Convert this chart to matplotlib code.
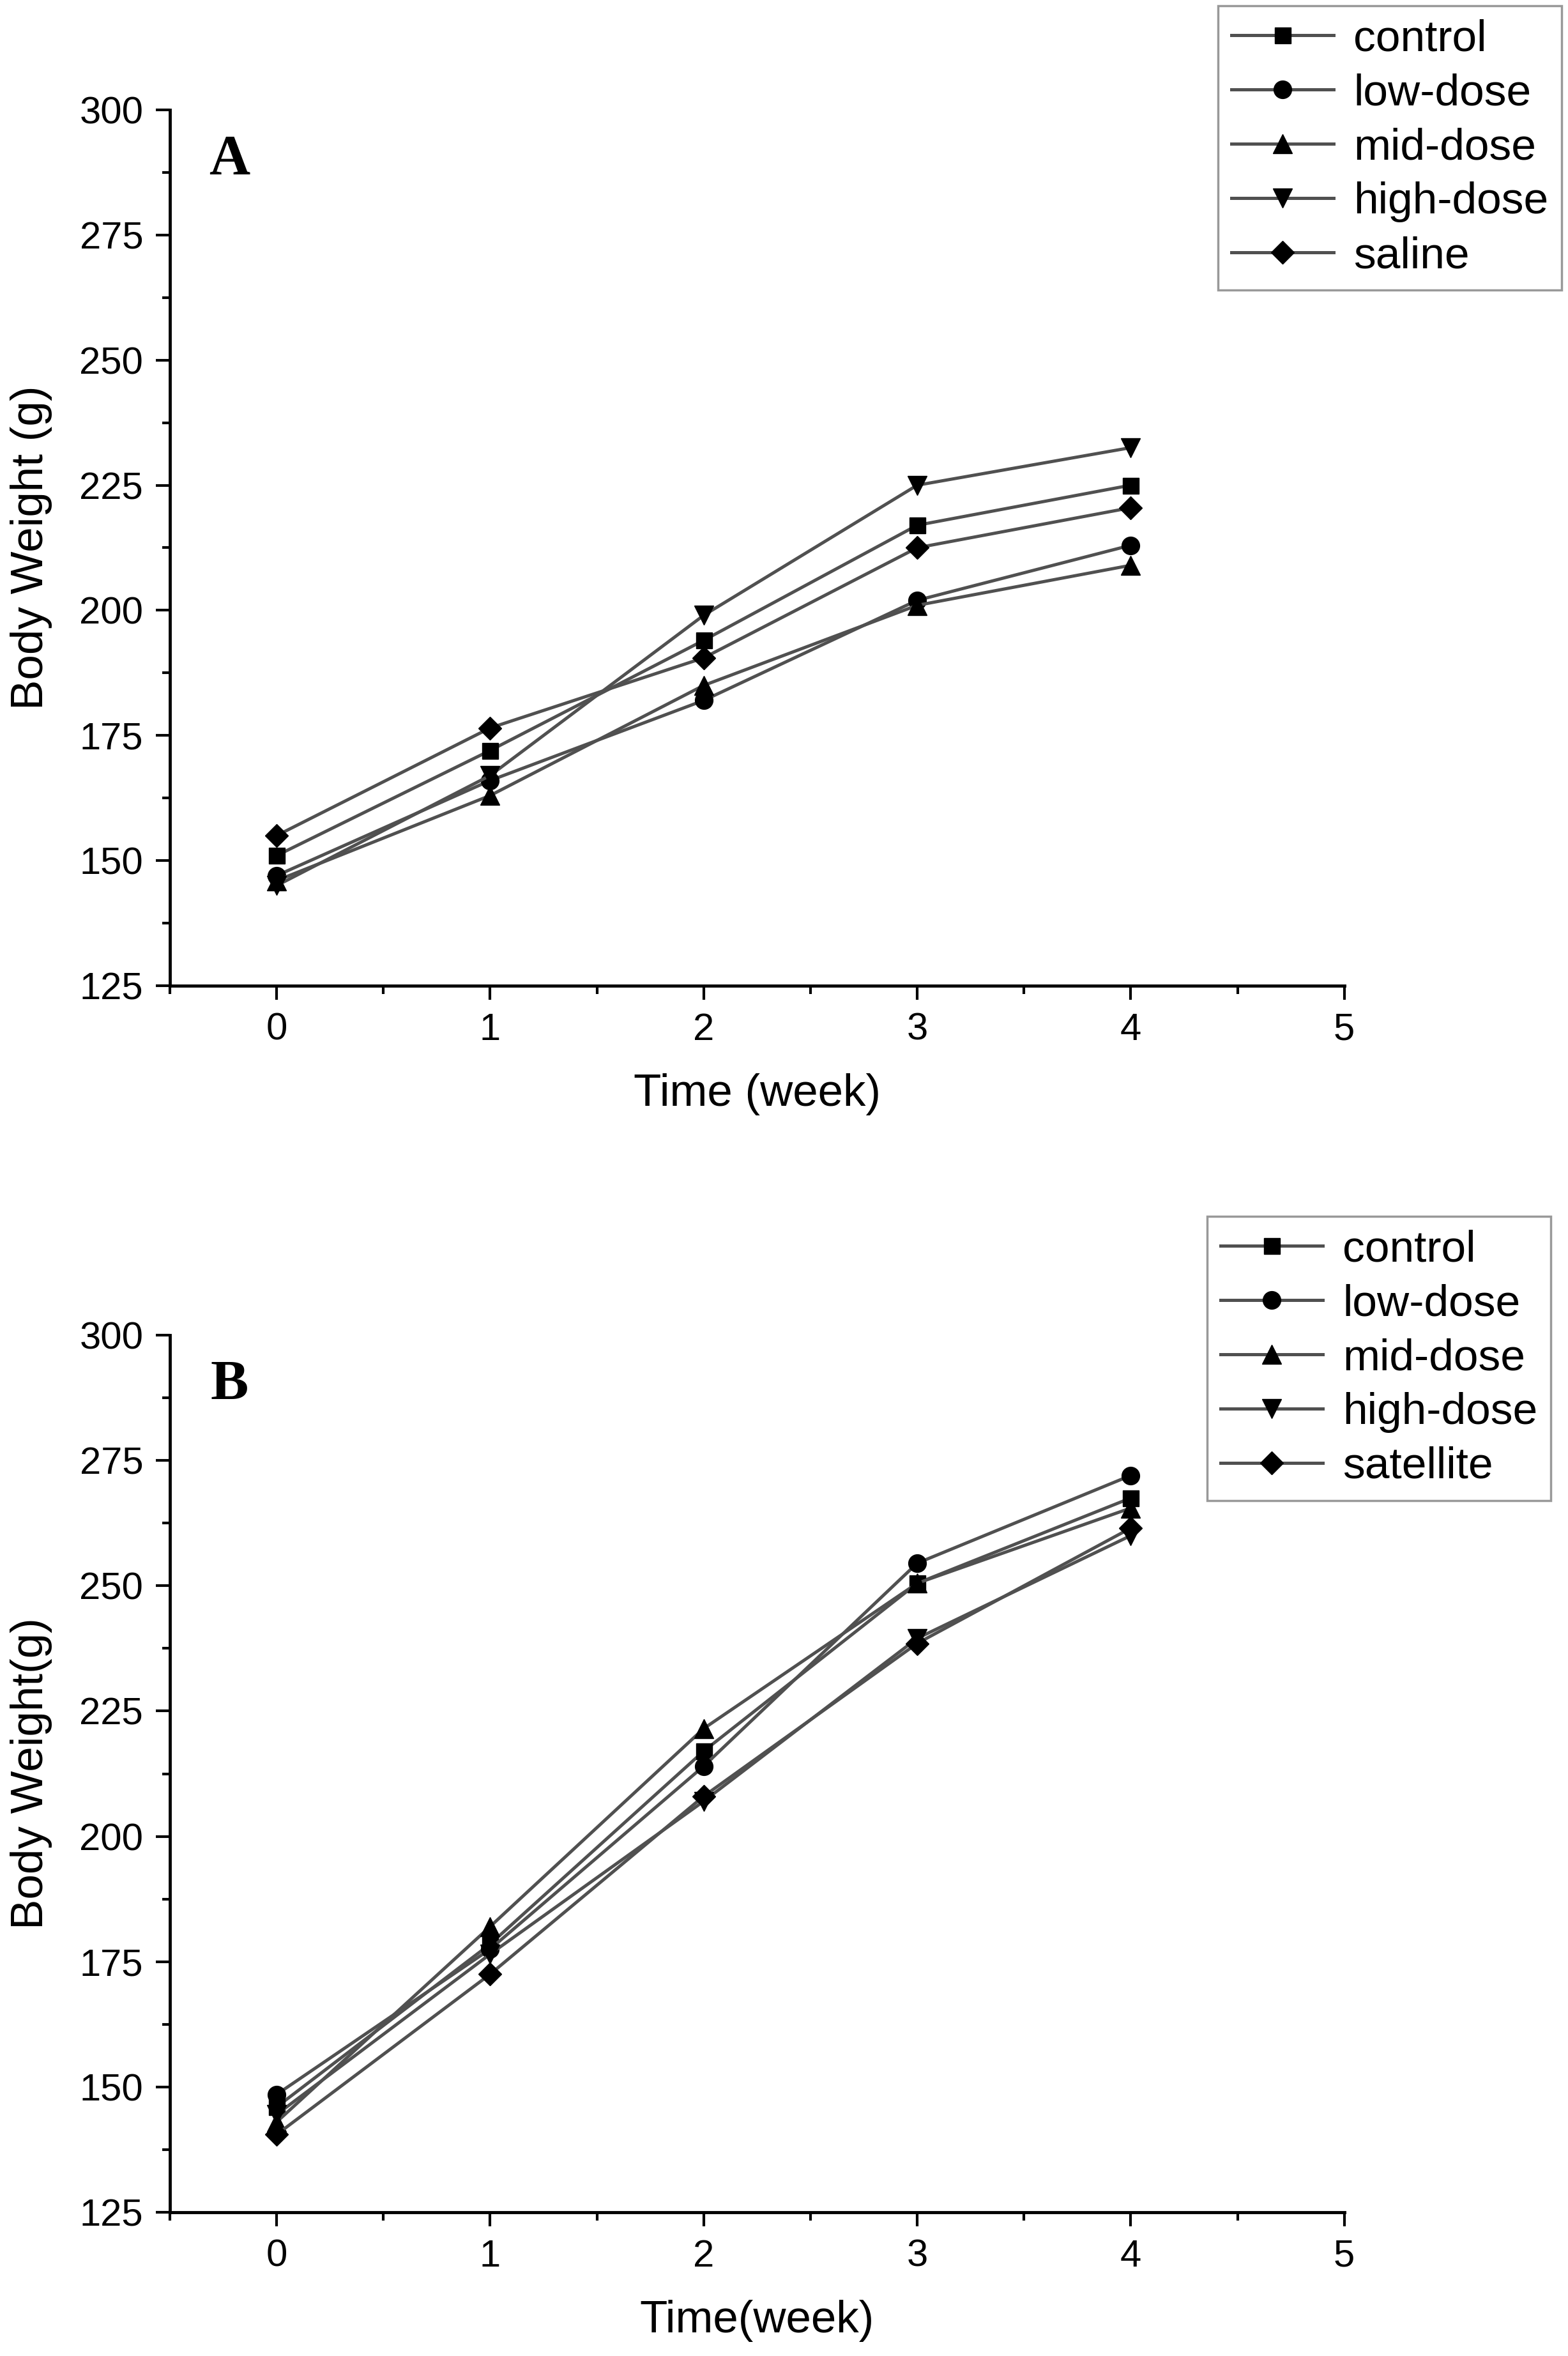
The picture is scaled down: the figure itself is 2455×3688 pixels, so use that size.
import matplotlib
matplotlib.use("Agg")
import matplotlib.pyplot as plt
from matplotlib.ticker import MultipleLocator

plt.rcParams['font.family'] = ['Liberation Sans', 'DejaVu Sans']

# data
weeks = [0, 1, 2, 3, 4]

# panel A
a_labels = ['control', 'low-dose', 'mid-dose', 'high-dose', 'saline']
a_control = [151, 172, 194, 217, 225]
a_low     = [147, 166, 182, 202, 213]
a_mid     = [146, 163, 185, 201, 209]
a_high    = [145, 167, 199, 225, 232.5]
a_saline  = [155, 176.5, 190.5, 212.5, 220.5]

# panel B
b_labels = ['control', 'low-dose', 'mid-dose', 'high-dose', 'satellite']
b_control = [146, 178.5, 217, 250.5, 267.5]
b_low     = [148.5, 177.5, 214, 254.5, 272]
b_mid     = [143, 182, 221.5, 250.5, 265.5]
b_high    = [144.5, 176.5, 207, 239.5, 260]
b_sat     = [140.5, 172.5, 208, 238.5, 261.5]

markers = ['s', 'o', '^', 'v', 'D']
msizes = [18, 20, 21, 21, 18]

fig = plt.figure(figsize=(24.55, 36.88), dpi=100)

def panel(rect, series, labels, letter, xlabel, ylabel, leg_box):
    ax = fig.add_axes(rect)
    for ys, lab, m, ms in zip(series, labels, markers, msizes):
        ax.plot(weeks, ys, color='#505050', lw=3.6, marker=m, ms=ms,
                mfc='black', mec='black', label=lab)
    ax.set_xlim(-0.5, 5)
    ax.set_ylim(125, 300)
    ax.xaxis.set_major_locator(MultipleLocator(1))
    ax.xaxis.set_minor_locator(MultipleLocator(0.5))
    ax.yaxis.set_major_locator(MultipleLocator(25))
    ax.yaxis.set_minor_locator(MultipleLocator(12.5))
    for s in ['top', 'right']:
        ax.spines[s].set_visible(False)
    for s in ['left', 'bottom']:
        ax.spines[s].set_linewidth(3.5)
    ax.tick_params(which='major', direction='out', length=16, width=3, labelsize=43, pad=14)
    ax.tick_params(which='minor', direction='out', length=9, width=3)
    ax.set_xlabel(xlabel, fontsize=51)
    ax.set_ylabel(ylabel, fontsize=51)
    ax.xaxis.set_label_coords(0.5, -0.1)
    ax.yaxis.set_label_coords(-0.1, 0.5)
    ax.text(-0.22, 290, letter, fontsize=64, fontweight='bold',
            family=['Liberation Serif', 'DejaVu Serif'], ha='center', va='center')
    leg = fig.legend(*ax.get_legend_handles_labels(), loc='upper right',
                     bbox_to_anchor=leg_box, fontsize=50, frameon=True,
                     fancybox=False, edgecolor='#808080', handlelength=2.3,
                     handletextpad=0.45, labelspacing=0.3, borderpad=0.3,
                     borderaxespad=0)
    leg.get_frame().set_linewidth(2.5)
    return ax

panel([0.1083, 0.5816, 0.749, 0.3718],
      [a_control, a_low, a_mid, a_high, a_saline], a_labels, 'A',
      'Time (week)', 'Body Weight (g)', (0.996, 0.9976))
panel([0.1083, 0.0610, 0.749, 0.3723],
      [b_control, b_low, b_mid, b_high, b_sat], b_labels, 'B',
      'Time(week)', 'Body Weight(g)', (0.989, 0.4838))

fig.savefig('out.png', dpi=100)
